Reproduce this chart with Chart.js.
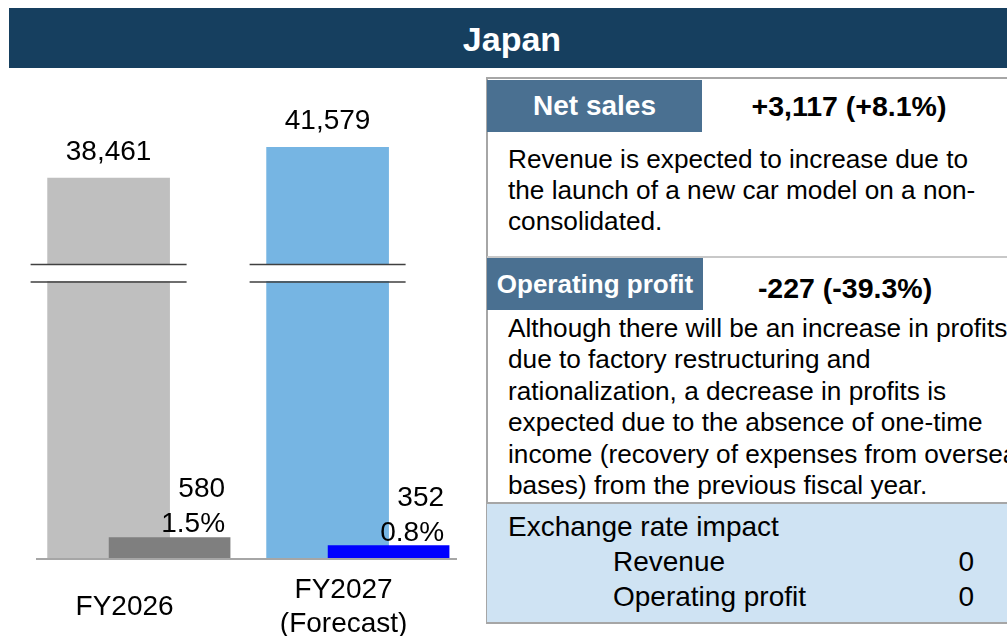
<!DOCTYPE html>
<html>
<head>
<meta charset="utf-8">
<script src="https://cdn.jsdelivr.net/npm/chart.js@4.4.1/dist/chart.umd.min.js"></script>
<style>
  html, body { margin: 0; padding: 0; background: #fff; }
  body { width: 1007px; height: 636px; overflow: hidden; position: relative;
         font-family: 'Liberation Sans', Arial, Helvetica, sans-serif; color: #000; }
  .abs { position: absolute; white-space: nowrap; }
  #header { left: 9px; top: 8px; width: 1006px; height: 60px; background: #163f5f;
            color: #fff; font-weight: bold; font-size: 34px; line-height: 62px; text-align: center; }
  #chartBox { left: 0; top: 70px; width: 470px; height: 566px; }
  #panel { left: 486px; top: 77px; width: 560px; height: 547px; box-sizing: border-box;
           border: 2px solid #a6a6a6; }
  .tag { background: #4a7091; color: #fff; font-weight: bold; text-align: center; height: 52px; line-height: 52px; }
  .delta { font-weight: bold; font-size: 28.5px; line-height: 52px; text-align: center; }
  .body { font-size: 26.2px; }
  #sep { left: 487px; top: 256px; width: 540px; height: 2px; background: #c8c8c8; }
  #fx { left: 487px; top: 502px; width: 540px; height: 120px; background: #cfe3f3;
        border-top: 2px solid #a6a6a6; box-sizing: border-box; }
  .fxt { font-size: 28px; line-height: 35px; }
</style>
</head>
<body>
<div id="header" class="abs">Japan</div>

<div id="chartBox" class="abs"><canvas id="chart"></canvas></div>

<div id="panel" class="abs"></div>
<div class="abs tag" style="left:487px; top:80px; width:215px; font-size:28px;">Net sales</div>
<div class="abs delta" style="left:702px; top:80px; width:294px;">+3,117 (+8.1%)</div>
<div class="abs body" style="left:508px; top:144px; line-height:31px;">Revenue is expected to increase due to<br>the launch of a new car model on a non-<br>consolidated.</div>
<div id="sep" class="abs"></div>
<div class="abs tag" style="left:487px; top:258px; width:216px; font-size:26px;">Operating profit</div>
<div class="abs delta" style="left:698px; top:262px; width:294px;">-227 (-39.3%)</div>
<div class="abs body" style="left:508px; top:313px; line-height:31.4px;">Although there will be an increase in profits<br>due to factory restructuring and<br>rationalization, a decrease in profits is<br>expected due to the absence of one-time<br>income (recovery of expenses from overseas<br>bases) from the previous fiscal year.</div>
<div id="fx" class="abs"></div>
<div class="abs fxt" style="left:508px; top:509px;">Exchange rate impact</div>
<div class="abs fxt" style="left:613px; top:544px;">Revenue</div>
<div class="abs fxt" style="left:613px; top:579px;">Operating profit</div>
<div class="abs fxt" style="left:900px; top:544px; width:74px; text-align:right;">0</div>
<div class="abs fxt" style="left:900px; top:579px; width:74px; text-align:right;">0</div>

<script>
// values
const categories = ['FY2026', ['FY2027', '(Forecast)']];
const netSales = [38461, 41579];
const opProfit = [580, 352];
const opMargin = ['1.5%', '0.8%'];

const salesColors = ['#bfbfbf', '#76b5e3'];
const profitColors = ['#7f7f7f', '#0000ff'];

const FONT = "'Liberation Sans', Arial, Helvetica, sans-serif";

// draws the axis baseline, the break marks and all the labels
const labelsPlugin = {
  id: 'labels',
  beforeDatasetsDraw(chart) {
    const ctx = chart.ctx;
    const area = chart.chartArea;
    const y0 = chart.scales.y.getPixelForValue(0);
    ctx.save();
    ctx.strokeStyle = '#a6a6a6';
    ctx.lineWidth = 2;
    ctx.beginPath();
    ctx.moveTo(area.left + 15, y0 + 1);
    ctx.lineTo(area.right - 2, y0 + 1);
    ctx.stroke();
    ctx.restore();
  },
  afterDatasetsDraw(chart) {
    const ctx = chart.ctx;
    const sx = chart.scales.x;
    const sy = chart.scales.y;
    const y0 = sy.getPixelForValue(0);
    const big = chart.getDatasetMeta(1).data;
    const small = chart.getDatasetMeta(0).data;
    ctx.save();

    // broken axis marks across the tall bars
    const yb = sy.getPixelForValue(28860);
    big.forEach(bar => {
      ctx.fillStyle = '#fff';
      ctx.fillRect(bar.x - 78, yb - 8, 156, 16);
      ctx.strokeStyle = '#404040';
      ctx.lineWidth = 1.5;
      ctx.beginPath();
      ctx.moveTo(bar.x - 78, yb - 8.5);
      ctx.lineTo(bar.x + 78, yb - 8.5);
      ctx.moveTo(bar.x - 78, yb + 9);
      ctx.lineTo(bar.x + 78, yb + 9);
      ctx.stroke();
    });

    ctx.fillStyle = '#000';
    ctx.font = '28px ' + FONT;
    ctx.textBaseline = 'alphabetic';

    // net sales values
    ctx.textAlign = 'center';
    big.forEach((bar, i) => {
      ctx.fillText(netSales[i].toLocaleString('en-US'), bar.x, bar.y - 18);
    });

    // operating profit and margin
    ctx.textAlign = 'right';
    small.forEach((bar, i) => {
      const r = bar.x + bar.width / 2 - 5;
      ctx.fillText(String(opProfit[i]), r, bar.y - 40);
      ctx.fillText(opMargin[i], r, bar.y - 5);
    });

    // category labels
    ctx.textAlign = 'center';
    categories.forEach((c, i) => {
      const lines = Array.isArray(c) ? c : [c];
      const cx = sx.getPixelForValue(i) + 16;
      lines.forEach((t, k) => {
        ctx.fillText(t, cx, y0 + 57 + (k - (lines.length - 1) / 2) * 34);
      });
    });
    ctx.restore();
  }
};

new Chart(
  document.getElementById('chart'),
  {
    type: 'bar',
    data: {
      datasets: [
        {
          label: 'Operating profit',
          data: opProfit.map((v, i) => ({x: i, y: v})),
          backgroundColor: profitColors,
          xAxisID: 'x2',
          yAxisID: 'y2',
          barThickness: 121,
          grouped: false,
          order: 0
        },
        {
          label: 'Net sales',
          data: netSales.map((v, i) => ({x: i, y: v})),
          backgroundColor: salesColors,
          xAxisID: 'x',
          yAxisID: 'y',
          barThickness: 122,
          grouped: false,
          order: 1
        }
      ]
    },
    options: {
      responsive: true,
      maintainAspectRatio: false,
      devicePixelRatio: 1,
      animation: false,
      layout: { padding: { left: 21, right: 11, top: 14, bottom: 78 } },
      plugins: {
        legend: { display: false },
        tooltip: { enabled: false }
      },
      scales: {
        x: { type: 'linear', min: -0.4, max: 1.6, offset: false, display: false },
        x2: { type: 'linear', min: -0.6785, max: 1.3215, offset: false, display: false },
        y: { min: 0, max: 48000, display: false },
        y2: { min: 0, max: 13400, display: false }
      }
    },
    plugins: [labelsPlugin]
  }
);
</script>
</body>
</html>
